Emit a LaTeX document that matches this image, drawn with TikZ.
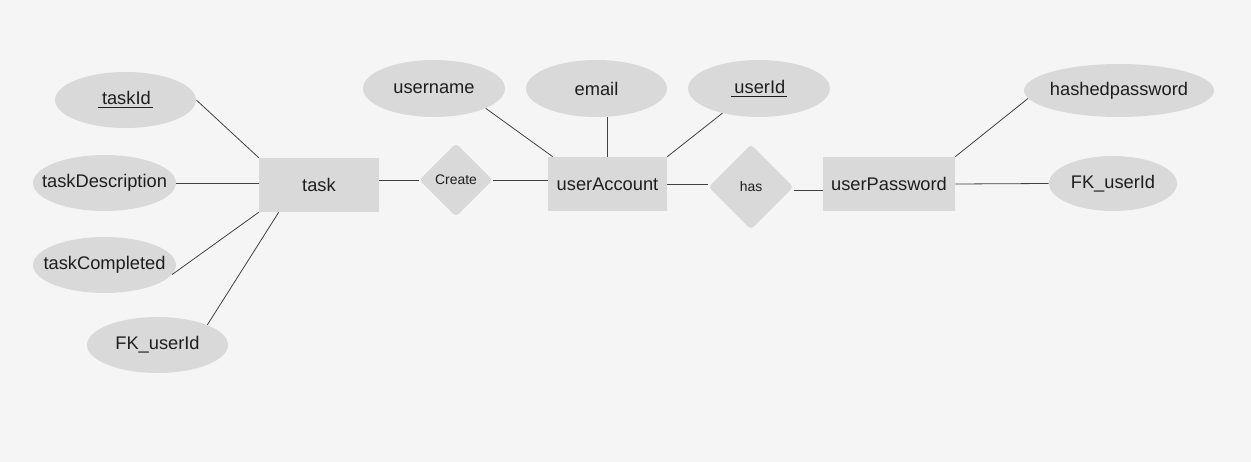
\documentclass[tikz,border=0pt]{standalone}
\usepackage{fontspec}
\setmainfont{Liberation Sans}
\usetikzlibrary{shapes.geometric,positioning,calc}
\definecolor{canvasgray}{HTML}{F5F5F5}
\definecolor{shapegray}{HTML}{D9D9D9}
\definecolor{inkgray}{HTML}{1E1E1E}
\newcommand{\fieldname}[1]{\makebox[0pt]{#1}}
\newcommand{\keyfield}[1]{\fieldname{\underline{\hspace{2pt}#1\hspace{1pt}}}}

\begin{document}
\begin{tikzpicture}[
    x=0.02cm, y=-0.02cm,
    entity/.style={rectangle, fill=shapegray, minimum height=1.08cm, inner sep=0pt, text=inkgray, font=\fontsize{10.4}{12}\selectfont},
    attr/.style={ellipse, fill=shapegray, minimum width=#1, minimum height=1.12cm, inner sep=0pt, text=inkgray, font=\fontsize{10.4}{12}\selectfont},
    relation/.style={diamond, fill=shapegray, minimum size=#1, inner sep=0pt, rounded corners=2pt, text=inkgray, font=\fontsize{7.9}{9}\selectfont},
    link/.style={draw=black!75, line width=0.45pt}
]

% Canvas
\fill[canvasgray] (0,0) rectangle (1251,462);

% Entities
\node[entity, minimum width=2.4cm] (task) at (319,185) {task};
\node[entity, minimum width=2.38cm] (userAccount) at (607.5,184) {userAccount};
\node[entity, minimum width=2.64cm] (userPassword) at (889,184) {userPassword};

% Relations
\node[relation=1.47cm] (create) at (456,180) {Create};
\node[relation=1.7cm] (has) at (751,187) {has};

% Attributes of task
\node[attr=2.82cm] (taskId) at (125.5,100) {\keyfield{taskId}};
\node[attr=2.86cm] (taskDesc) at (104.5,183) {\fieldname{taskDescription}};
\node[attr=2.86cm] (taskDone) at (104.5,265) {\fieldname{taskCompleted}};
\node[attr=2.82cm] (taskFk) at (157.5,345) {\fieldname{FK\_userId}};

% Attributes of userAccount
\node[attr=2.84cm, minimum height=1.14cm] (username) at (434,88.5) {\fieldname{username}};
\node[attr=2.82cm, minimum height=1.14cm] (email) at (596.5,88.5) {\fieldname{email}};
\node[attr=2.84cm, minimum height=1.14cm] (userId) at (759,88.5) {\keyfield{userId}};

% Attributes of userPassword
\node[attr=3.8cm, minimum height=1.06cm] (hashedPwd) at (1119,90.5) {\fieldname{hashedpassword}};
\node[attr=2.56cm, minimum height=1.1cm] (pwdFk) at (1113,183.5) {\fieldname{FK\_userId}};

% Attribute links
\draw[link] (taskId.east) -- (task.north west);
\draw[link] (taskDesc.east) -- (taskDesc.east -| task.west);
\draw[link] (taskDone.-8) -- (task.south west);
\draw[link] (taskFk.22) -- ($(task.south west)+(20,0)$);
\draw[link] (username.-21) -- ($(userAccount.north west)+(5,0)$);
\draw[link] (userAccount.north) -- (userAccount.north |- email.south);
\draw[link] (userId.214) -- (userAccount.north east);
\draw[link] (hashedPwd.185) -- (userPassword.north east);
\draw[link] (userPassword.east) -- (pwdFk.west);

% Relation links
\draw[link] (create.west -| task.east) -- (create.west);
\draw[link] (create.east) -- (create.east -| userAccount.west);
\draw[link] (userAccount.east) -- ($(userAccount.east -| has.west)+(0,0)$);
\draw[link] ($(has.east)+(0,3)$) -- ($(has.east -| userPassword.west)+(0,3)$);

\end{tikzpicture}
\end{document}
